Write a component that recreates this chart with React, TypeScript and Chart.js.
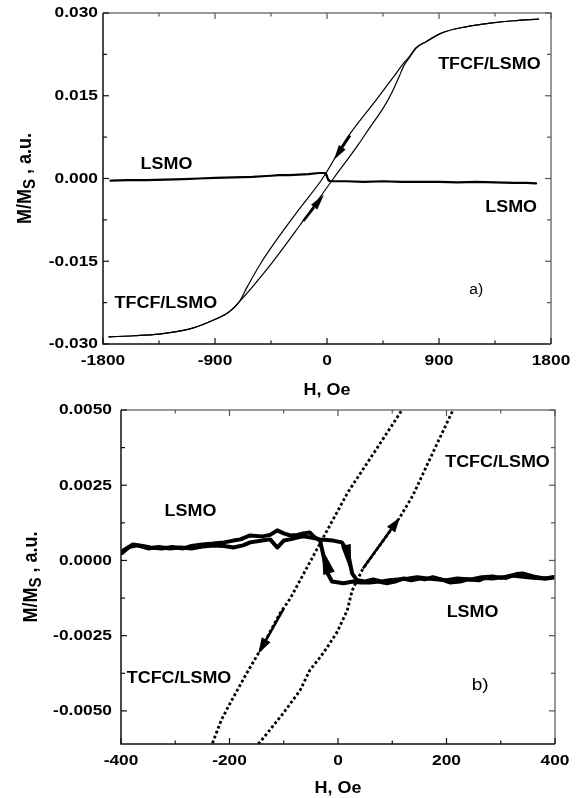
import React, { useEffect, useRef } from 'react';
import { Chart, registerables } from 'chart.js';
Chart.register(...registerables);

const W = 579;
const FONT = '"Liberation Sans", Arial, Helvetica, sans-serif';
const SX = 1.12;

// ---------------- Panel a) ----------------
const aXTicks = [-1800, -900, 0, 900, 1800];
const aXMinor = [-1350, -450, 450, 1350];
const aYTicks = [-0.03, -0.015, 0, 0.015, 0.03];
const aYMinor = [-0.0225, -0.0075, 0.0075, 0.0225];

// TFCF/LSMO loop, descending branch
const aDescH = [1700, 1500, 1326, 1117, 924, 796, 715, 659, 619, 560, 400, 153, -36, -225, -522, -640, -707, -788, -948, -1109, -1350, -1550, -1752];
const aDescM = [0.0289, 0.0286, 0.0282, 0.0275, 0.0264, 0.0248, 0.0237, 0.0220, 0.0210, 0.0192, 0.0144, 0.0071, 0.0, -0.0056, -0.0150, -0.0196, -0.0224, -0.0242, -0.0260, -0.0273, -0.0282, -0.0285, -0.0287];
// TFCF/LSMO loop, ascending branch
const aAscH = [-1752, -1550, -1350, -1109, -948, -788, -707, -450, -225, 52, 250, 337, 450, 522, 580, 619, 659, 715, 796, 924, 1117, 1326, 1500, 1700];
const aAscM = [-0.0287, -0.0285, -0.0282, -0.0273, -0.0260, -0.0242, -0.0224, -0.0155, -0.0087, 0.0, 0.0061, 0.0090, 0.0127, 0.0156, 0.0185, 0.0205, 0.0218, 0.0236, 0.0248, 0.0264, 0.0275, 0.0282, 0.0286, 0.0289];
// LSMO
const aLsmoH = [-1740, -1600, -1450, -1300, -1150, -1030, -900, -750, -600, -450, -386, -300, -225, -150, -64, -30, -10, 0, 10, 25, 60, 150, 300, 450, 600, 750, 900, 1050, 1200, 1350, 1500, 1600, 1680];
const aLsmoM = [-0.0004, -0.0003, -0.0003, -0.0002, -0.0001, 0.0, 0.0001, 0.0002, 0.0003, 0.0005, 0.0006, 0.0006, 0.0007, 0.0008, 0.0010, 0.0010, 0.0009, 0.0004, -0.0002, -0.0005, -0.0005, -0.0005, -0.0006, -0.0005, -0.0006, -0.0006, -0.0006, -0.0007, -0.0006, -0.0007, -0.0008, -0.0008, -0.0009];
// LSMO return trace around zero field (small loop)
const aLsmoRetH = [40, 20, 8, 0, -8, -20];
const aLsmoRetM = [-0.0005, -0.0005, -0.0002, 0.0003, 0.0008, 0.0010];

// ---------------- Panel b) ----------------
const bXTicks = [-400, -200, 0, 200, 400];
const bXMinor = [-300, -100, 100, 300];
const bYTicks = [-0.005, -0.0025, 0, 0.0025, 0.005];
const bYMinor = [-0.00375, -0.00125, 0.00125, 0.00375];

// TCFC/LSMO, descending branch (dotted)
const bDescH = [122, 118, 70, 18, -35, -88, -107, -144, -170, -199, -215, -232];
const bDescM = [0.0051, 0.0050, 0.00368, 0.00226, 0.0005, -0.00126, -0.00176, -0.0030, -0.0038, -0.00475, -0.0053, -0.0061];
// TCFC/LSMO, ascending branch (dotted)
const bAscH = [-147, -138, -101, -70, -52, -33, -20, -2, 17, 26, 46, 77, 114, 138, 175, 212, 216];
const bAscM = [-0.0061, -0.00591, -0.00508, -0.00432, -0.00365, -0.00322, -0.00289, -0.00239, -0.00166, -0.0010, -0.00027, 0.0005, 0.00143, 0.00216, 0.00359, 0.0050, 0.0051];
// LSMO, field decreasing
const bLsmoDownH = [398, 380, 360, 340, 330, 310, 300, 285, 270, 260, 240, 225, 206, 190, 175, 160, 151, 135, 120, 105, 90, 75, 59, 41, 28, 10, -11, -20, -33, -45, -52, -64, -75, -88, -100, -112, -125, -140, -162, -180, -193, -210, -230, -250, -270, -285, -305, -325, -346, -360, -378, -396];
const bLsmoDownM = [-0.00056, -0.0006, -0.00053, -0.00043, -0.00045, -0.00058, -0.00056, -0.0006, -0.00058, -0.00066, -0.00063, -0.0007, -0.00073, -0.00063, -0.00056, -0.00063, -0.0006, -0.00066, -0.0006, -0.0007, -0.00076, -0.0007, -0.00073, -0.00073, -0.0007, -0.00076, -0.0007, -0.0004, 0.00066, 0.0008, 0.00093, 0.0009, 0.00085, 0.00083, 0.0009, 0.0010, 0.00085, 0.0008, 0.00083, 0.0007, 0.00066, 0.0006, 0.00056, 0.00053, 0.00048, 0.0004, 0.00045, 0.0004, 0.00043, 0.00048, 0.00053, 0.00033];
// LSMO, field increasing
const bLsmoUpH = [-398, -385, -370, -350, -330, -310, -290, -270, -250, -230, -210, -193, -175, -162, -140, -125, -112, -100, -88, -75, -64, -50, -33, -20, -9, 7, 18, 26, 35, 50, 65, 80, 95, 110, 130, 146, 165, 185, 200, 220, 245, 265, 285, 300, 320, 345, 365, 385, 400];
const bLsmoUpM = [0.00025, 0.00045, 0.0005, 0.0004, 0.00045, 0.0004, 0.00043, 0.0004, 0.00046, 0.0005, 0.00048, 0.00043, 0.0005, 0.0006, 0.00066, 0.0007, 0.00043, 0.00066, 0.0007, 0.00076, 0.0008, 0.00076, 0.0007, 0.00068, 0.00066, 0.0006, 0.0003, -0.00043, -0.00066, -0.0007, -0.00063, -0.0007, -0.00066, -0.00063, -0.0006, -0.00056, -0.0006, -0.00063, -0.00066, -0.0006, -0.00063, -0.00056, -0.00053, -0.00058, -0.0005, -0.00055, -0.00058, -0.0006, -0.00055];

type Series = { h: number[]; m: number[]; width: number; dash?: number[]; smooth?: boolean };
type Label = { text: string; h: number; m: number; size: number; bold: boolean };
type Arrow = { from: [number, number]; to: [number, number]; head: number; headW: number; shaft: number };
type Panel = {
  height: number;
  area: { left: number; top: number; right: number; bottom: number };
  xMin: number; xMax: number; yMin: number; yMax: number;
  xTicks: number[]; xMinor: number[]; yTicks: number[]; yMinor: number[];
  yDigits: number;
  series: Series[];
  labels: Label[];
  arrows: Arrow[];
  yTitleX: number;
  xTitleDy: number;
  xLabelDy: number;
  yLabelGap: number;
};

const panelA: Panel = {
  height: 398,
  area: { left: 103, top: 13, right: 551, bottom: 344 },
  xMin: -1800, xMax: 1800, yMin: -0.03, yMax: 0.03,
  xTicks: aXTicks, xMinor: aXMinor, yTicks: aYTicks, yMinor: aYMinor,
  yDigits: 3,
  series: [
    { h: aDescH, m: aDescM, width: 1.2, smooth: true },
    { h: aAscH, m: aAscM, width: 1.2, smooth: true },
    { h: aLsmoH, m: aLsmoM, width: 2.2 },
    { h: aLsmoRetH, m: aLsmoRetM, width: 1.6, smooth: true },
  ],
  labels: [
    { text: 'LSMO', h: -1290, m: 0.0025, size: 16, bold: true },
    { text: 'TFCF/LSMO', h: 1305, m: 0.0206, size: 16, bold: true },
    { text: 'LSMO', h: 1480, m: -0.0052, size: 16, bold: true },
    { text: 'TFCF/LSMO', h: -1295, m: -0.0226, size: 16, bold: true },
    { text: 'a)', h: 1200, m: -0.0202, size: 14, bold: false },
  ],
  arrows: [
    { from: [185, 0.0078], to: [56, 0.0034], head: 15, headW: 8, shaft: 2.5 },
    { from: [-190, -0.0077], to: [-24, -0.0029], head: 16, headW: 8, shaft: 2.5 },
  ],
  yTitleX: 24,
  xTitleDy: 47,
  xLabelDy: 17,
  yLabelGap: 5,
};

const panelB: Panel = {
  height: 400,
  area: { left: 121, top: 12, right: 555, bottom: 346 },
  xMin: -400, xMax: 400, yMin: -0.0061, yMax: 0.005,
  xTicks: bXTicks, xMinor: bXMinor, yTicks: bYTicks, yMinor: bYMinor,
  yDigits: 4,
  series: [
    { h: bDescH, m: bDescM, width: 2.8, dash: [2.8, 2.4] },
    { h: bAscH, m: bAscM, width: 2.8, dash: [2.8, 2.4] },
    { h: bLsmoDownH, m: bLsmoDownM, width: 4 },
    { h: bLsmoUpH, m: bLsmoUpM, width: 4 },
  ],
  labels: [
    { text: 'LSMO', h: -272, m: 0.00164, size: 16, bold: true },
    { text: 'TCFC/LSMO', h: 294, m: 0.00324, size: 16, bold: true },
    { text: 'TCFC/LSMO', h: -293, m: -0.00392, size: 16, bold: true },
    { text: 'LSMO', h: 248, m: -0.00174, size: 16, bold: true },
    { text: 'b)', h: 262, m: -0.00414, size: 17, bold: false },
  ],
  arrows: [
    { from: [46, -0.00027], to: [114, 0.00143], head: 15, headW: 10, shaft: 2.5 },
    { from: [-100, -0.0016], to: [-147, -0.0031], head: 16, headW: 10, shaft: 2.5 },
    { from: [-16.6, -0.00043], to: [-29.5, 0.0004], head: 26, headW: 12, shaft: 0 },
    { from: [14.7, 0.0005], to: [24, -0.0004], head: 28, headW: 10, shaft: 0 },
  ],
  yTitleX: 30,
  xTitleDy: 45,
  xLabelDy: 16.5,
  yLabelGap: 9,
};

function drawText(ctx: CanvasRenderingContext2D, s: string, x: number, y: number, font: string, align: CanvasTextAlign = 'center', sx = SX) {
  ctx.save();
  ctx.translate(x, y);
  ctx.scale(sx, 1);
  ctx.font = font;
  ctx.textAlign = align;
  ctx.textBaseline = 'middle';
  ctx.fillStyle = '#000';
  ctx.fillText(s, 0, 0);
  ctx.restore();
}

function drawArrow(ctx: CanvasRenderingContext2D, x0: number, y0: number, x1: number, y1: number, head: number, headW: number, shaft: number) {
  const ang = Math.atan2(y1 - y0, x1 - x0);
  const c = Math.cos(ang), s = Math.sin(ang);
  const bx = x1 - head * c, by = y1 - head * s;
  ctx.fillStyle = '#000';
  ctx.strokeStyle = '#000';
  if (shaft > 0) {
    ctx.lineWidth = shaft;
    ctx.beginPath();
    ctx.moveTo(x0, y0);
    ctx.lineTo(bx, by);
    ctx.stroke();
  }
  const px = -s, py = c;
  ctx.beginPath();
  ctx.moveTo(x1, y1);
  ctx.lineTo(bx + px * headW / 2, by + py * headW / 2);
  ctx.lineTo(bx - px * headW / 2, by - py * headW / 2);
  ctx.closePath();
  ctx.fill();
}

function buildChart(canvas: HTMLCanvasElement, p: Panel) {
  const decor = {
    id: 'decor',
    afterDraw(chart: any) {
      const ctx: CanvasRenderingContext2D = chart.ctx;
      const a = chart.chartArea;
      const xs = chart.scales.x;
      const ys = chart.scales.y;
      ctx.save();
      // frame
      ctx.lineWidth = 1.5;
      ctx.strokeStyle = '#777';
      ctx.beginPath();
      ctx.moveTo(a.left, a.top);
      ctx.lineTo(a.right, a.top);
      ctx.lineTo(a.right, a.bottom);
      ctx.stroke();
      ctx.strokeStyle = '#111';
      ctx.beginPath();
      ctx.moveTo(a.left, a.top);
      ctx.lineTo(a.left, a.bottom);
      ctx.lineTo(a.right, a.bottom);
      ctx.stroke();
      // ticks (inward)
      const tick = (vals: number[], len: number) => {
        ctx.lineWidth = 1.2;
        for (const v of vals) {
          const px = xs.getPixelForValue(v);
          ctx.strokeStyle = '#111';
          ctx.beginPath();
          ctx.moveTo(px, a.bottom);
          ctx.lineTo(px, a.bottom - len);
          ctx.stroke();
          ctx.strokeStyle = '#555';
          ctx.beginPath();
          ctx.moveTo(px, a.top);
          ctx.lineTo(px, a.top + len);
          ctx.stroke();
        }
      };
      const tickY = (vals: number[], len: number) => {
        ctx.lineWidth = 1.2;
        for (const v of vals) {
          const py = ys.getPixelForValue(v);
          ctx.strokeStyle = '#111';
          ctx.beginPath();
          ctx.moveTo(a.left, py);
          ctx.lineTo(a.left + len, py);
          ctx.stroke();
          ctx.strokeStyle = '#555';
          ctx.beginPath();
          ctx.moveTo(a.right, py);
          ctx.lineTo(a.right - len, py);
          ctx.stroke();
        }
      };
      tick(p.xTicks, 6);
      tick(p.xMinor, 3.5);
      tickY(p.yTicks, 6);
      tickY(p.yMinor, 4);
      // tick labels
      const tf = `bold 15.5px ${FONT}`;
      for (const v of p.xTicks) {
        drawText(ctx, String(v), xs.getPixelForValue(v), a.bottom + p.xLabelDy, tf);
      }
      for (const v of p.yTicks) {
        const s = Math.abs(v) < 1e-12 ? (0).toFixed(p.yDigits) : v.toFixed(p.yDigits);
        drawText(ctx, s, a.left - p.yLabelGap, ys.getPixelForValue(v), tf, 'right');
      }
      // x title
      drawText(ctx, 'H, Oe', (a.left + a.right) / 2, a.bottom + p.xTitleDy, `bold 16px ${FONT}`);
      // y title (rotated, subscript S)
      {
        const cy = (a.top + a.bottom) / 2;
        ctx.save();
        ctx.translate(p.yTitleX, cy);
        ctx.rotate(-Math.PI / 2);
        ctx.scale(1, 1.1);
        const big = `bold 18px ${FONT}`;
        const small = `bold 15px ${FONT}`;
        ctx.textBaseline = 'alphabetic';
        ctx.textAlign = 'left';
        ctx.fillStyle = '#000';
        ctx.font = big;
        const w1 = ctx.measureText('M/M').width;
        const w3 = ctx.measureText(' , a.u.').width;
        ctx.font = small;
        const w2 = ctx.measureText('S').width;
        let x = -(w1 + w2 + w3) / 2;
        const base = 6.4;
        ctx.font = big;
        ctx.fillText('M/M', x, base);
        x += w1;
        ctx.font = small;
        ctx.fillText('S', x, base + 3.5);
        x += w2;
        ctx.font = big;
        ctx.fillText(' , a.u.', x, base);
        ctx.restore();
      }
      // annotations
      for (const l of p.labels) {
        drawText(ctx, l.text, xs.getPixelForValue(l.h), ys.getPixelForValue(l.m), `${l.bold ? 'bold ' : ''}${l.size}px ${FONT}`);
      }
      for (const ar of p.arrows) {
        drawArrow(ctx,
          xs.getPixelForValue(ar.from[0]), ys.getPixelForValue(ar.from[1]),
          xs.getPixelForValue(ar.to[0]), ys.getPixelForValue(ar.to[1]),
          ar.head, ar.headW, ar.shaft);
      }
      ctx.restore();
    },
  };

  return new Chart(canvas, {
    type: 'scatter',
    data: {
      datasets: p.series.map((s) => ({
        data: s.h.map((h, i) => ({ x: h, y: s.m[i] })),
        showLine: true,
        borderColor: '#000',
        backgroundColor: '#000',
        borderWidth: s.width,
        borderDash: s.dash || [],
        borderCapStyle: s.dash ? 'butt' : 'round',
        borderJoinStyle: 'round',
        pointRadius: 0,
        pointHoverRadius: 0,
        tension: s.smooth ? 0.4 : 0,
        cubicInterpolationMode: s.smooth ? 'monotone' : 'default',
        fill: false,
      })) as any,
    },
    options: {
      animation: false,
      responsive: false,
      maintainAspectRatio: false,
      devicePixelRatio: 1,
      events: [],
      plugins: { legend: { display: false }, tooltip: { enabled: false }, title: { display: false } },
      layout: { padding: { top: p.area.top, right: W - p.area.right, left: 0, bottom: 0 } },
      scales: {
        x: {
          type: 'linear', min: p.xMin, max: p.xMax,
          ticks: { display: false },
          grid: { display: false, drawTicks: false },
          border: { display: false },
          afterFit: (s: any) => { s.height = p.height - p.area.bottom; },
        },
        y: {
          type: 'linear', min: p.yMin, max: p.yMax,
          ticks: { display: false },
          grid: { display: false, drawTicks: false },
          border: { display: false },
          afterFit: (s: any) => { s.width = p.area.left; },
        },
      },
    } as any,
    plugins: [decor],
  });
}

function PanelCanvas({ panel, top }: { panel: Panel; top: number }) {
  const ref = useRef<HTMLCanvasElement | null>(null);
  useEffect(() => {
    if (!ref.current) return;
    const chart = buildChart(ref.current, panel);
    return () => chart.destroy();
  }, [panel]);
  return (
    <canvas
      ref={ref}
      width={W}
      height={panel.height}
      style={{ position: 'absolute', left: 0, top, width: W, height: panel.height, display: 'block' }}
    />
  );
}

export default function App() {
  return (
    <div style={{ position: 'absolute', left: 0, top: 0, width: W, height: 798, background: '#fff' }}>
      <PanelCanvas panel={panelA} top={0} />
      <PanelCanvas panel={panelB} top={398} />
    </div>
  );
}
